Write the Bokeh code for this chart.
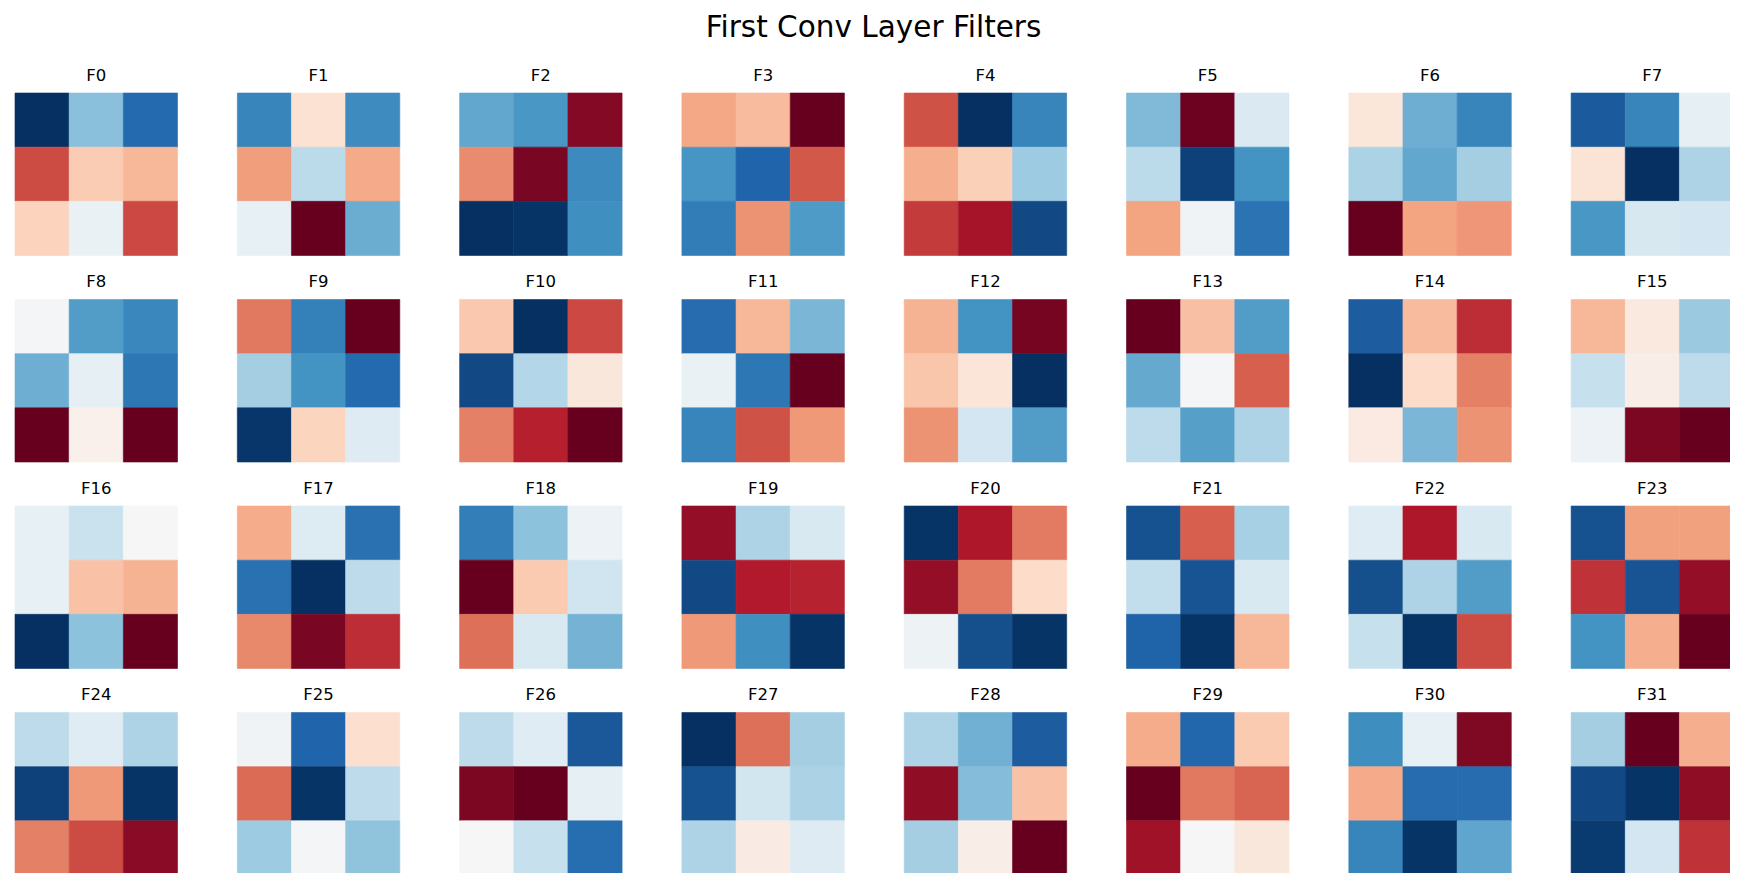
import numpy as np
from bokeh.plotting import figure
from bokeh.models import ColumnDataSource, Range1d, LinearColorMapper
from bokeh.transform import transform
from bokeh.core.properties import value
from bokeh.embed import file_html
from bokeh.resources import INLINE

# ---------------- data ----------------
title_text = "First Conv Layer Filters"
filter_names = [f"F{i}" for i in range(32)]

# 3x3 weights per filter (row-major), normalised to [-1, 1] per filter
filters = [
    [-1.00, -0.42, -0.78, 0.65, 0.25, 0.33, 0.23, -0.07, 0.66],   # F0
    [-0.66, 0.15, -0.63, 0.42, -0.27, 0.38, -0.08, 1.00, -0.50],   # F1
    [-0.52, -0.58, 0.92, 0.47, 0.95, -0.64, -1.00, -0.98, -0.61],  # F2
    [0.39, 0.32, 1.00, -0.59, -0.80, 0.62, -0.70, 0.45, -0.57],    # F3
    [0.64, -1.00, -0.66, 0.36, 0.24, -0.36, 0.70, 0.83, -0.90],    # F4
    [-0.44, 0.98, -0.15, -0.27, -0.93, -0.60, 0.40, -0.04, -0.74], # F5
    [0.12, -0.49, -0.66, -0.32, -0.52, -0.34, 1.00, 0.40, 0.44],   # F6
    [-0.84, -0.66, -0.09, 0.14, -1.00, -0.31, -0.58, -0.17, -0.18],# F7
    [-0.02, -0.56, -0.65, -0.49, -0.09, -0.72, 1.00, 0.05, 1.00],  # F8
    [0.53, -0.68, 1.00, -0.34, -0.60, -0.78, -0.97, 0.22, -0.13],  # F9
    [0.27, -1.00, 0.66, -0.90, -0.29, 0.11, 0.50, 0.78, 1.00],     # F10
    [-0.77, 0.33, -0.46, -0.07, -0.72, 1.00, -0.66, 0.64, 0.43],   # F11
    [0.35, -0.60, 0.96, 0.28, 0.13, -1.00, 0.45, -0.18, -0.56],    # F12
    [1.00, 0.30, -0.56, -0.51, -0.02, 0.60, -0.26, -0.55, -0.31],  # F13
    [-0.83, 0.32, 0.74, -1.00, 0.19, 0.50, 0.09, -0.46, 0.45],     # F14
    [0.33, 0.10, -0.37, -0.23, 0.07, -0.26, -0.06, 0.94, 1.00],    # F15
    [-0.08, -0.22, 0.00, -0.08, 0.29, 0.35, -1.00, -0.41, 1.00],   # F16
    [0.37, -0.14, -0.75, -0.75, -1.00, -0.26, 0.48, 0.95, 0.74],   # F17
    [-0.69, -0.41, -0.06, 1.00, 0.26, -0.20, 0.55, -0.16, -0.47],  # F18
    [0.88, -0.31, -0.16, -0.90, 0.79, 0.77, 0.43, -0.61, -0.98],   # F19
    [-0.98, 0.81, 0.52, 0.88, 0.52, 0.19, -0.05, -0.88, -0.98],    # F20
    [-0.87, 0.60, -0.33, -0.25, -0.86, -0.16, -0.81, -0.98, 0.33], # F21
    [-0.12, 0.81, -0.16, -0.88, -0.31, -0.56, -0.23, -0.98, 0.65], # F22
    [-0.87, 0.41, 0.41, 0.72, -0.86, 0.88, -0.60, 0.36, 1.00],     # F23
    [-0.26, -0.12, -0.31, -0.93, 0.43, -0.98, 0.50, 0.65, 0.90],   # F24
    [-0.04, -0.80, 0.17, 0.57, -0.98, -0.26, -0.36, -0.02, -0.40], # F25
    [-0.26, -0.12, -0.85, 0.94, 1.00, -0.09, 0.00, -0.23, -0.76],  # F26
    [-1.00, 0.55, -0.34, -0.87, -0.19, -0.32, -0.31, 0.08, -0.13], # F27
    [-0.31, -0.48, -0.83, 0.89, -0.43, 0.29, -0.34, 0.07, 1.00],   # F28
    [0.37, -0.79, 0.26, 1.00, 0.53, 0.58, 0.85, 0.00, 0.11],       # F29
    [-0.62, -0.08, 0.93, 0.38, -0.77, -0.77, -0.66, -0.98, -0.53], # F30
    [-0.34, 1.00, 0.36, -0.90, -0.98, 0.89, -0.96, -0.18, 0.72],   # F31
]

# RdBu (reversed: low = blue, high = red)
rdbu_r_anchors = ["#053061", "#2166ac", "#4393c3", "#92c5de", "#d1e5f0", "#f7f7f7",
                  "#fddbc7", "#f4a582", "#d6604d", "#b2182b", "#67001f"]

# ---------------- colormap ----------------
def hex2rgb(h):
    return np.array([int(h[i:i + 2], 16) for i in (1, 3, 5)], dtype=float)

anchor_rgb = np.array([hex2rgb(h) for h in rdbu_r_anchors])
pos = np.linspace(0, 1, len(rdbu_r_anchors))
palette = []
for t in np.linspace(0, 1, 256):
    rgb = [np.interp(t, pos, anchor_rgb[:, k]) for k in range(3)]
    palette.append("#%02x%02x%02x" % tuple(int(round(v)) for v in rgb))
mapper = LinearColorMapper(palette=palette, low=-1, high=1)

# ---------------- layout (pixel coordinates) ----------------
W, H = 1730, 873
ncols, nrows = 8, 4
left0, top0 = 14.5, 92.5
col_step, row_step = 222.3, 206.5
size = 162.5
cell = size / 3

xs0, xs1, ys0, ys1, vals = [], [], [], [], []
lab_x, lab_y = [], []
for f, w in enumerate(filters):
    r, c = divmod(f, ncols)
    L = left0 + c * col_step
    T = top0 + r * row_step
    for k, v in enumerate(w):
        i, j = divmod(k, 3)
        xs0.append(L + j * cell)
        xs1.append(L + (j + 1) * cell)
        ys0.append(T + i * cell)
        ys1.append(T + (i + 1) * cell)
        vals.append(v)
    lab_x.append(L + size / 2)
    lab_y.append(T - 18)

src = ColumnDataSource(dict(left=xs0, right=xs1, top=ys0, bottom=ys1, v=vals))

p = figure(width=W, height=H, output_backend="svg", toolbar_location=None,
           x_range=Range1d(0, W), y_range=Range1d(H, 0),
           min_border=0, outline_line_color=None)
p.axis.visible = False
p.grid.visible = False
p.background_fill_color = "white"
p.border_fill_color = "white"

p.quad(left="left", right="right", top="top", bottom="bottom", source=src,
       fill_color=transform("v", mapper), line_color=transform("v", mapper),
       line_width=0.6)

p.text(x=lab_x, y=lab_y, text=filter_names, text_font=value("DejaVu Sans"),
       text_font_size="16.5px", text_align="center",
       text_baseline="middle", text_color="black")

p.text(x=[873], y=[26.5], text=[title_text], text_font=value("DejaVu Sans"),
       text_font_size="29.5px", text_align="center",
       text_baseline="middle", text_color="black")

open("out.html", "w").write(file_html(p, INLINE))
